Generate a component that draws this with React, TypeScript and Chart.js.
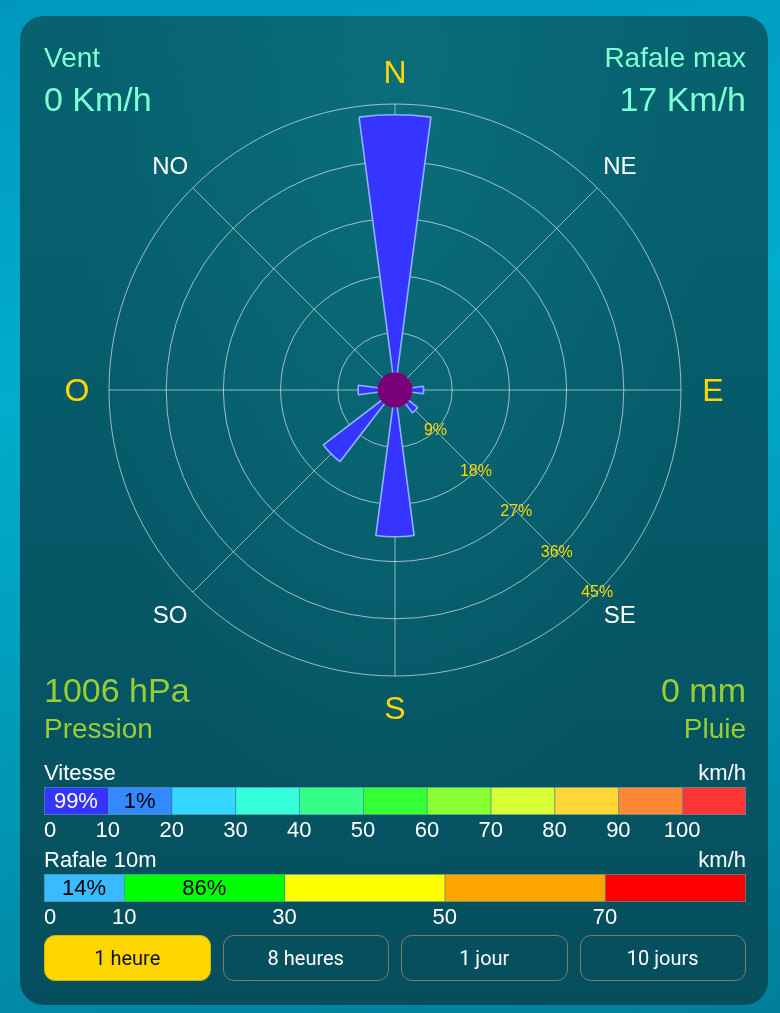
import React, { useEffect, useRef } from 'react';
import { Chart, registerables } from 'chart.js';

Chart.register(...registerables);

// ---------- data ----------
const directions = ['N', 'NNE', 'NE', 'ENE', 'E', 'ESE', 'SE', 'SSE', 'S', 'SSO', 'SO', 'OSO', 'O', 'ONO', 'NO', 'NNO'];
const frequencies = [43.3, 0, 0, 0, 4.5, 0, 4.5, 0, 23.1, 0, 14.2, 0, 5.8, 0, 0, 0];
const radialTicks = [0, 9, 18, 27, 36, 45];
const compassLabels = ['N', 'NE', 'E', 'SE', 'S', 'SO', 'O', 'NO'];

const speedSegments = [10, 10, 10, 10, 10, 10, 10, 10, 10, 10, 10];
const speedColors = ['#3434ff', '#3589ff', '#35d6ff', '#35ffd8', '#35ff88', '#35ff35', '#88ff35', '#d8ff35', '#ffd635', '#ff8835', '#ff3535'];
const speedTicks = [0, 10, 20, 30, 40, 50, 60, 70, 80, 90, 100];
const speedShares = ['99%', '1%', '', '', '', '', '', '', '', '', ''];

const gustSegments = [10, 20, 20, 20, 17.6];
const gustColors = ['#38bbff', '#00ff00', '#ffff00', '#ffa500', '#ff0000'];
const gustTicks = [0, 10, 30, 50, 70];
const gustShares = ['14%', '86%', '', '', ''];

const FONT = "'Liberation Sans', Arial, sans-serif";

function luminance(hex: string) {
  const n = parseInt(hex.slice(1), 16);
  const r = (n >> 16) & 255, g = (n >> 8) & 255, b = n & 255;
  return (0.299 * r + 0.587 * g + 0.114 * b) / 255;
}

// ---------- wind rose ----------
const rosePlugin = {
  id: 'roseDecor',
  beforeDatasetsDraw(chart: any) {
    const s = chart.scales.r;
    const ctx = chart.ctx;
    const cx = s.xCenter, cy = s.yCenter, R = s.drawingArea;
    ctx.save();
    ctx.strokeStyle = 'rgba(255,255,255,0.55)';
    ctx.lineWidth = 1;
    ctx.beginPath();
    for (let k = 0; k < compassLabels.length; k++) {
      const a = -Math.PI / 2 + (k * 2 * Math.PI) / compassLabels.length;
      ctx.moveTo(cx, cy);
      ctx.lineTo(cx + R * Math.cos(a), cy + R * Math.sin(a));
    }
    ctx.stroke();
    ctx.restore();
  },
  afterDatasetsDraw(chart: any) {
    const s = chart.scales.r;
    const ctx = chart.ctx;
    const cx = s.xCenter, cy = s.yCenter, R = s.drawingArea;
    ctx.save();
    // centre hub
    ctx.fillStyle = '#7a0078';
    ctx.beginPath();
    ctx.arc(cx, cy, 17.5, 0, Math.PI * 2);
    ctx.fill();
    // radial tick labels along the SE line
    ctx.fillStyle = '#ffd700';
    ctx.font = `16px ${FONT}`;
    ctx.textAlign = 'center';
    ctx.textBaseline = 'middle';
    const d45 = Math.SQRT1_2;
    s.ticks.forEach((t: any) => {
      if (t.value === 0) return;
      const d = s.getDistanceFromCenterForValue(t.value);
      ctx.fillText(`${t.value}%`, cx + d * d45, cy + d * d45 + 0.5);
    });
    // compass labels
    const L = R + 32;
    compassLabels.forEach((lab, k) => {
      const a = -Math.PI / 2 + (k * 2 * Math.PI) / compassLabels.length;
      const cardinal = k % 2 === 0;
      ctx.fillStyle = cardinal ? '#ffd700' : '#ffffff';
      ctx.font = `${cardinal ? 32 : 24}px ${FONT}`;
      ctx.fillText(lab, cx + L * Math.cos(a), cy + L * Math.sin(a) + 2);
    });
    ctx.restore();
  },
};

function WindRose() {
  const ref = useRef<HTMLCanvasElement>(null);
  useEffect(() => {
    const labels = directions.flatMap((d) => [d, '']);
    const values = frequencies.flatMap((v) => [v, 0]);
    const step = 360 / directions.length;
    const wedge = step * (2 / 3);
    const chart = new Chart(ref.current as HTMLCanvasElement, {
      type: 'polarArea',
      data: {
        labels,
        datasets: [
          {
            data: values,
            backgroundColor: '#3535ff',
            borderColor: '#8fb2ff',
            borderWidth: (c: any) => (c.raw > 0 ? 1.6 : 0),
            angle: (c: any) => (c.dataIndex % 2 === 0 ? wedge : step - wedge),
          } as any,
        ],
      },
      options: {
        animation: false,
        responsive: false,
        events: [],
        layout: { padding: { left: 89, right: 87, top: 88, bottom: 90 } },
        plugins: { legend: { display: false }, tooltip: { enabled: false } },
        scales: {
          r: {
            type: 'radialLinear',
            min: 0,
            max: 45,
            startAngle: -wedge / 2,
            afterBuildTicks: (sc: any) => {
              sc.ticks = radialTicks.map((v) => ({ value: v }));
            },
            ticks: { display: false },
            grid: { circular: true, color: 'rgba(255,255,255,0.6)', lineWidth: 1 },
            angleLines: { display: false },
            pointLabels: { display: false },
          } as any,
        },
      },
      plugins: [rosePlugin],
    });
    return () => chart.destroy();
  }, []);
  return (
    <canvas
      ref={ref}
      width={748}
      height={750}
      style={{ position: 'absolute', left: 0, top: 0, width: 748, height: 750 }}
    />
  );
}

// ---------- segmented scale bar ----------
function SegmentBar(props: { segments: number[]; colors: string[]; ticks: number[]; shares: string[]; top: number }) {
  const { segments, colors, ticks, shares, top } = props;
  const ref = useRef<HTMLCanvasElement>(null);
  useEffect(() => {
    const max = segments.reduce((a, b) => a + b, 0);
    const last = segments.length - 1;
    const sharePlugin = {
      id: 'shares',
      afterDatasetsDraw(chart: any) {
        const ctx = chart.ctx;
        ctx.save();
        ctx.font = `22px ${FONT}`;
        ctx.textAlign = 'center';
        ctx.textBaseline = 'middle';
        shares.forEach((txt, i) => {
          if (!txt) return;
          const el = chart.getDatasetMeta(i).data[0];
          ctx.fillStyle = luminance(colors[i]) < 0.4 ? '#ffffff' : '#000000';
          ctx.fillText(txt, (el.x + el.base) / 2, el.y + 1);
        });
        ctx.restore();
      },
    };
    const chart = new Chart(ref.current as HTMLCanvasElement, {
      type: 'bar',
      data: {
        labels: [''],
        datasets: segments.map((v, i) => ({
          data: [v],
          backgroundColor: colors[i],
          borderColor: '#4f8ea0',
          borderWidth: i === last ? 1 : { top: 1, bottom: 1, left: 1, right: 0 },
          borderSkipped: false,
          barPercentage: 1,
          categoryPercentage: 1,
        })) as any,
      },
      options: {
        indexAxis: 'y',
        animation: false,
        responsive: false,
        events: [],
        layout: { padding: { left: 24, right: 22, top: 5, bottom: 1 } },
        plugins: { legend: { display: false }, tooltip: { enabled: false } },
        scales: {
          x: {
            type: 'linear',
            stacked: true,
            min: 0,
            max,
            grid: { display: false, drawTicks: false },
            border: { display: false },
            afterBuildTicks: (axis: any) => {
              axis.ticks = [...ticks, max].map((v) => ({ value: v }));
            },
            ticks: {
              align: 'inner',
              padding: 3,
              autoSkip: false,
              maxRotation: 0,
              color: '#ffffff',
              font: { size: 22, family: FONT },
              callback: (v: any) => (ticks.includes(v) ? String(v) : ''),
            },
          } as any,
          y: { stacked: true, display: false },
        },
      },
      plugins: [sharePlugin],
    });
    return () => chart.destroy();
  }, []);
  return (
    <canvas
      ref={ref}
      width={748}
      height={62}
      style={{ position: 'absolute', left: 0, top: top - 5, width: 748, height: 62 }}
    />
  );
}

// ---------- page ----------
const txt = (extra: React.CSSProperties): React.CSSProperties => ({
  position: 'absolute',
  margin: 0,
  lineHeight: 1,
  whiteSpace: 'nowrap',
  fontFamily: FONT,
  ...extra,
});

const buttons = ['1 heure', '8 heures', '1 jour', '10 jours'];

export default function App() {
  useEffect(() => {
    document.body.style.margin = '0';
  }, []);
  return (
    <div
      style={{
        position: 'relative',
        width: 780,
        height: 1013,
        overflow: 'hidden',
        background: 'linear-gradient(170deg, #0096bf 0%, #00adca 35%, #0096b4 70%, #007f9b 100%)',
      }}
    >
      <div
        style={{
          position: 'absolute',
          left: 20,
          top: 16,
          width: 748,
          height: 989,
          borderRadius: 24,
          overflow: 'hidden',
          background:
            'radial-gradient(ellipse at 50% 10%, rgba(14,120,132,0.55) 0%, rgba(14,120,132,0) 60%), linear-gradient(180deg, #07616f 0%, #065a69 45%, #054e5d 100%)',
        }}
      >
        <WindRose />
        <div style={txt({ left: 24, top: 28, fontSize: 28, color: '#7fffd4' })}>Vent</div>
        <div style={txt({ left: 24, top: 66, fontSize: 34, color: '#7fffd4' })}>0 Km/h</div>
        <div style={txt({ right: 22, top: 28, fontSize: 28, color: '#7fffd4' })}>Rafale max</div>
        <div style={txt({ right: 22, top: 66, fontSize: 34, color: '#7fffd4' })}>17 Km/h</div>

        <div style={txt({ left: 24, top: 657, fontSize: 34, color: '#9acd32' })}>1006 hPa</div>
        <div style={txt({ left: 24, top: 699, fontSize: 28, color: '#9acd32' })}>Pression</div>
        <div style={txt({ right: 22, top: 657, fontSize: 34, color: '#9acd32' })}>0 mm</div>
        <div style={txt({ right: 22, top: 699, fontSize: 28, color: '#9acd32' })}>Pluie</div>

        <div style={txt({ left: 24, top: 746, fontSize: 22, color: '#ffffff' })}>Vitesse</div>
        <div style={txt({ right: 22, top: 746, fontSize: 22, color: '#ffffff' })}>km/h</div>
        <SegmentBar segments={speedSegments} colors={speedColors} ticks={speedTicks} shares={speedShares} top={771} />

        <div style={txt({ left: 24, top: 833, fontSize: 22, color: '#ffffff' })}>Rafale 10m</div>
        <div style={txt({ right: 22, top: 833, fontSize: 22, color: '#ffffff' })}>km/h</div>
        <SegmentBar segments={gustSegments} colors={gustColors} ticks={gustTicks} shares={gustShares} top={858} />

        <div style={{ position: 'absolute', left: 24, top: 919, width: 702, height: 46, display: 'flex', gap: 12 }}>
          {buttons.map((b, i) => (
            <div
              key={b}
              style={{
                flex: 1,
                boxSizing: 'border-box',
                borderRadius: 11,
                border: i === 0 ? '1px solid #d9b400' : '1px solid #7d7a75',
                background: i === 0 ? '#ffd700' : 'transparent',
                color: i === 0 ? '#111111' : '#ffffff',
                fontFamily: "Roboto, 'Liberation Sans', Arial, sans-serif",
                fontSize: 20,
                display: 'flex',
                alignItems: 'center',
                justifyContent: 'center',
              }}
            >
              {b}
            </div>
          ))}
        </div>
      </div>
    </div>
  );
}
